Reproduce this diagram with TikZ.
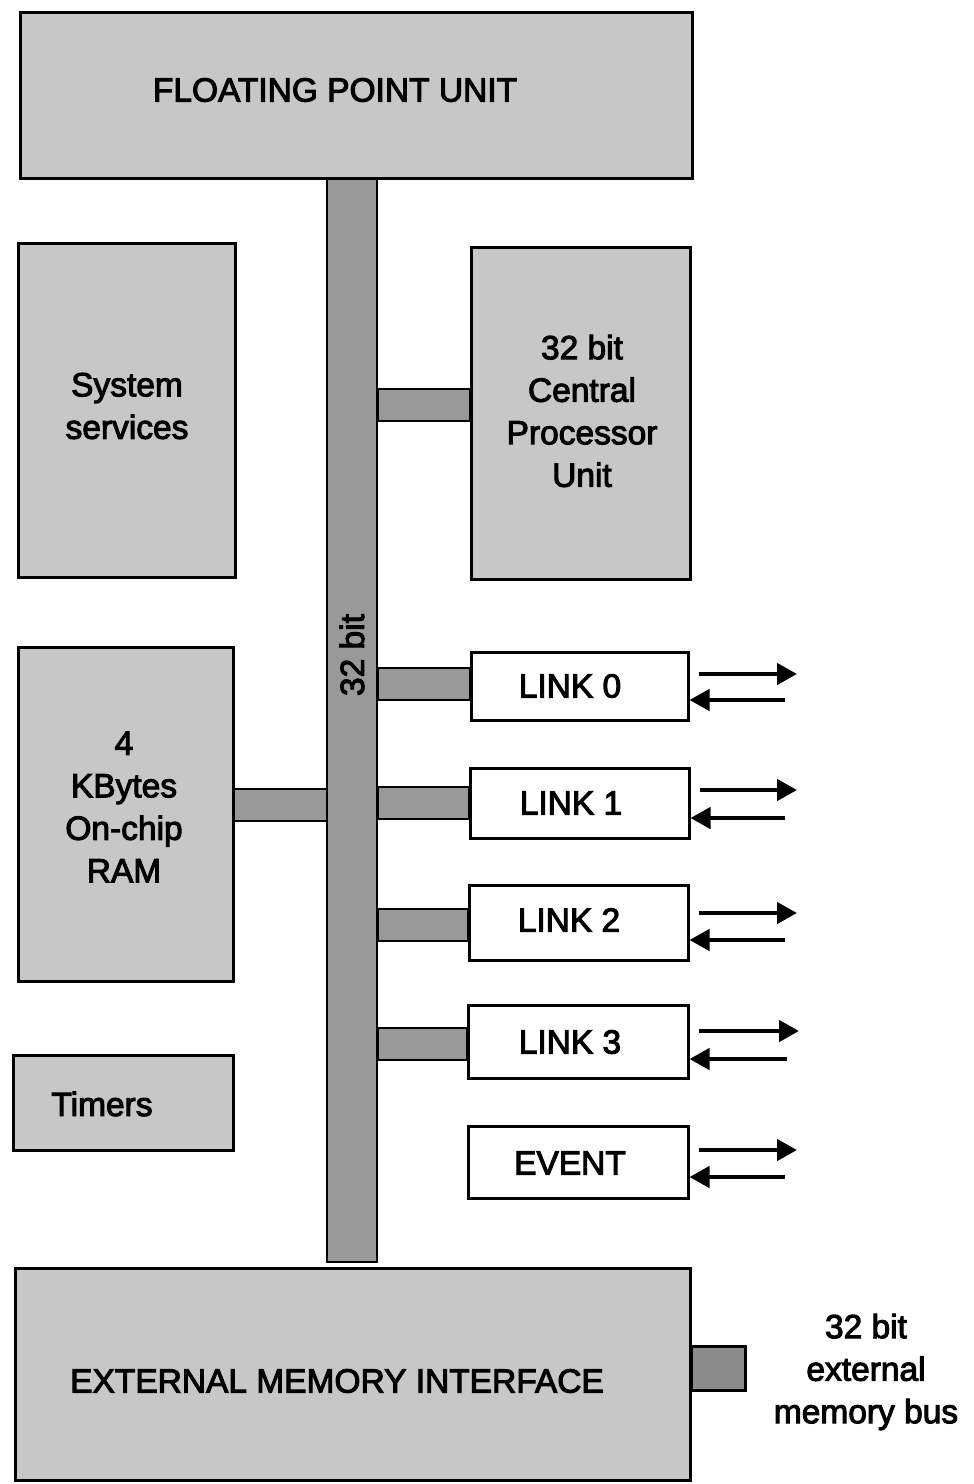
\documentclass[tikz,border=0pt]{standalone}
\usepackage{fontspec}
\setmainfont{Liberation Sans}
\newfontfamily\heavyfont[FakeBold=3]{Liberation Sans}
\usetikzlibrary{arrows.meta}
\begin{document}
\begin{tikzpicture}[x=1pt,y=-1pt,
 txt/.style={font=\heavyfont\fontsize{33.5}{42.5}\selectfont,align=center},
 blk/.style={draw=black,line width=3pt,fill=black!22,inner sep=0pt,txt},
 lnk/.style={draw=black,line width=3pt,fill=white,inner sep=0pt,txt},
 bar/.style={draw=black,line width=1.5pt,fill=black!40},
 sig/.style={line width=4.5pt,-{Triangle[length=20pt,width=21pt]}}]
\useasboundingbox (0,0) rectangle (974,1484);
\fill[white] (0,0) rectangle (974,1484);
% bus
\node[bar,minimum width=50pt,minimum height=1084pt,inner sep=0pt] (bus) at (352,720) {};
\node[txt,rotate=90] (buslabel) at (352,655) {32 bit};
% blocks
\node[blk,minimum width=672pt,minimum height=166pt] (fpu) at (356,95) {};
\node[txt] (fpulabel) at (335,90) {FLOATING POINT UNIT};
\node[blk,minimum width=217pt,minimum height=334pt] (sys) at (126.5,410) {};
\node[txt] (syslabel) at (127,406) {System\\services};
\node[blk,minimum width=219pt,minimum height=332pt] (cpu) at (580.5,413) {};
\node[txt] (cpulabel) at (582,411) {32 bit\\Central\\Processor\\Unit};
\node[blk,minimum width=215pt,minimum height=334pt] (ram) at (125.5,814) {};
\node[txt] (ramlabel) at (124,807) {4\\KBytes\\On-chip\\RAM};
\node[blk,minimum width=220pt,minimum height=95pt] (timers) at (123,1102.5) {};
\node[txt] (timerslabel) at (102,1104) {Timers};
\node[blk,minimum width=675pt,minimum height=212pt] (emi) at (352.5,1374) {};
\node[txt] (emilabel) at (337,1381) {EXTERNAL MEMORY INTERFACE};
% links
\node[lnk,minimum width=217pt,minimum height=68pt] (link0) at (579.5,686) {};
\node[lnk,minimum width=219pt,minimum height=70pt] (link1) at (579.5,803) {};
\node[lnk,minimum width=219pt,minimum height=75pt] (link2) at (578.5,922.5) {};
\node[lnk,minimum width=220pt,minimum height=73pt] (link3) at (578,1041.5) {};
\node[lnk,minimum width=220pt,minimum height=72pt] (event) at (578,1162) {};
\node[txt] (l0label) at (570,686) {LINK 0};
\node[txt] (l1label) at (571,803) {LINK 1};
\node[txt] (l2label) at (569,920) {LINK 2};
\node[txt] (l3label) at (570,1042) {LINK 3};
\node[txt] (evlabel) at (570,1163) {EVENT};
% bus stubs
\draw[bar] (bus.east |- 0,389) rectangle (cpu.west |- 0,421);
\draw[bar] (ram.east |- 0,789) rectangle (bus.west |- 0,821);
\draw[bar] (bus.east |- 0,787) rectangle (link1.west |- 0,819);
\draw[bar] (bus.east |- 0,668) rectangle (link0.west |- 0,700);
\draw[bar] (bus.east |- 0,909) rectangle (link2.west |- 0,941);
\draw[bar] (bus.east |- 0,1028) rectangle (link3.west |- 0,1060);
% external bus
\coordinate (extc) at (745,1390);
\draw[draw=black,line width=3pt,fill=black!45] (emi.east |- 0,1346) rectangle (extc);
\node[txt] (extlabel) at (866,1372) {32 bit\\external\\memory bus};
% link arrows
\coordinate (o0) at (797,674); \coordinate (i0) at (785,700);
\coordinate (o1) at (797,790); \coordinate (i1) at (785,818);
\coordinate (o2) at (797,913); \coordinate (i2) at (785,940);
\coordinate (o3) at (799,1031); \coordinate (i3) at (787,1059);
\coordinate (o4) at (797,1150); \coordinate (i4) at (785,1177);
\foreach \n/\k in {link0/0,link1/1,link2/2,link3/3,event/4}{
  \draw[sig] ([xshift=9pt]\n.east |- o\k) -- (o\k);
  \draw[sig] (i\k) -- (\n.east |- i\k);
}
\end{tikzpicture}
\end{document}
